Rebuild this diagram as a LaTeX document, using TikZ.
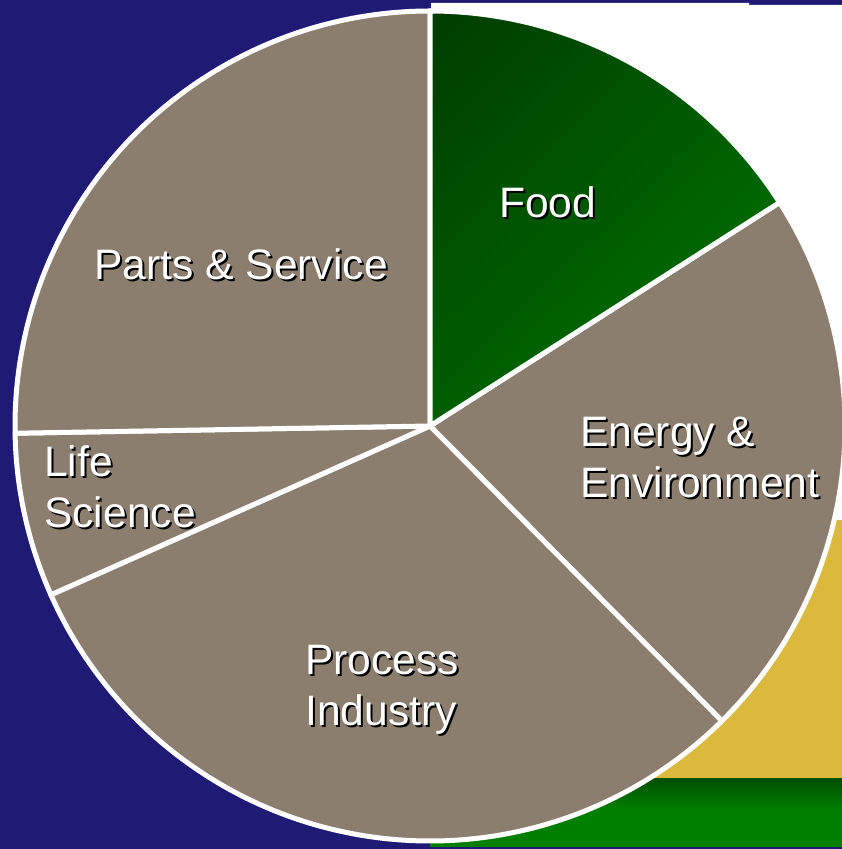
\documentclass[tikz,border=0pt]{standalone}
\usepackage{fontspec}
\setmainfont{Liberation Sans}
\usetikzlibrary{shadings}

\definecolor{navybg}{HTML}{1F1A73}
\definecolor{slicegray}{HTML}{8B7E6E}
\definecolor{barsun}{HTML}{DBB93D}
\definecolor{bargreen}{HTML}{007E00}
\definecolor{bardark}{HTML}{005000}
\definecolor{foodtl}{HTML}{003C00}
\definecolor{foodtr}{HTML}{005800}
\definecolor{foodbl}{HTML}{005E00}
\definecolor{foodbr}{HTML}{007A00}

\tikzset{
    slice/.style={fill=slicegray, draw=white, line width=5pt, line join=round},
    lbl/.style={text=white, anchor=base west, inner sep=0pt, font=\fontsize{42.6}{51}\selectfont}
}

% white text with a dark drop shadow
\newcommand{\shtext}[1]{\rlap{\kern2pt\raisebox{-2pt}{\color{black}#1}}#1}
\newcommand{\twolines}[2]{\begin{tabular}[t]{@{}l@{}}#1\\#2\end{tabular}}

\begin{document}
\begin{tikzpicture}[x=1pt, y=1pt]

            \useasboundingbox (0,0) rectangle (842,849);
            \fill[navybg] (0,0) rectangle (842,849);

            % panels behind the pie
            \fill[white] (431,846) -- (749,846) -- (749,844) -- (842,844) -- (842,329) -- (431,329) -- cycle;
            \fill[barsun] (600,329) rectangle (842,70);
            \fill[bargreen] (430,70) rectangle (842,2);
            \shade[top color=bardark, bottom color=bargreen] (430,70) rectangle (842,40);

            \coordinate (c) at (430,423);

            % slices
            \draw[slice] (c) -- ++(-45.3:415) arc[start angle=-45.3, end angle=32.6, radius=415] -- cycle;
            \draw[slice] (c) -- ++(204:415) arc[start angle=204, end angle=314.7, radius=415] -- cycle;
            \draw[slice] (c) -- ++(181:415) arc[start angle=181, end angle=204, radius=415] -- cycle;
            \draw[slice] (c) -- ++(90:415) arc[start angle=90, end angle=181, radius=415] -- cycle;
            \shadedraw[draw=white, line width=5pt, line join=round,
                upper left=foodtl, upper right=foodtr,
                lower left=foodbl, lower right=foodbr]
                (c) -- ++(32.6:415) arc[start angle=32.6, end angle=90, radius=415] -- cycle;

            \node[lbl] (food) at (499,631) {\shtext{Food}};
            \node[lbl] (parts) at (94,569) {\shtext{Parts \& Service}};
            \node[lbl] (energy) at (580,402) {\shtext{\twolines{Energy \&}{Environment}}};
            \node[lbl] (life) at (44,372) {\shtext{\twolines{Life}{Science}}};
            \node[lbl] (process) at (305,174) {\shtext{\twolines{Process}{Industry}}};
        \end{tikzpicture}
\end{document}
